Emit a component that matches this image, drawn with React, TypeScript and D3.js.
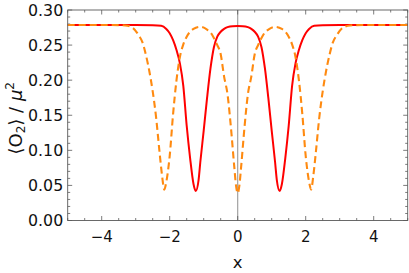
import * as d3 from "d3";

const WIDTH = 409;
const HEIGHT = 273;
const MARGIN = {top: 10, right: 1.3, bottom: 52.5, left: 67.7};

// solid red curve
const redX = [-5, -3, -2.5, -2.25, -2.1, -2, -1.9, -1.8, -1.7, -1.6, -1.5, -1.4, -1.3, -1.235, -1.15, -1.1, -1, -0.9, -0.8, -0.7, -0.6, -0.5, -0.4, -0.3, -0.15, 0,
    0.15, 0.3, 0.4, 0.5, 0.6, 0.7, 0.8, 0.9, 1, 1.1, 1.15, 1.235, 1.3, 1.4, 1.5, 1.6, 1.7, 1.8, 1.9, 2, 2.1, 2.25, 2.5, 3, 5];
const redY = [0.2786, 0.2786, 0.2783, 0.2775, 0.273, 0.267, 0.257, 0.243, 0.224, 0.192, 0.135, 0.089, 0.052, 0.042, 0.058, 0.083, 0.128, 0.175, 0.217, 0.247, 0.262, 0.269, 0.273, 0.2755, 0.277, 0.2772,
    0.277, 0.2755, 0.273, 0.269, 0.262, 0.247, 0.217, 0.175, 0.128, 0.083, 0.058, 0.042, 0.052, 0.089, 0.135, 0.192, 0.224, 0.243, 0.257, 0.267, 0.273, 0.2775, 0.2783, 0.2786, 0.2786];

// dashed orange curve
const orangeX = [-5, -3.5, -3.3, -3.1, -2.9, -2.8, -2.7, -2.6, -2.5, -2.4, -2.3, -2.22, -2.16, -2.1, -2, -1.9, -1.8, -1.7, -1.6, -1.5, -1.4, -1.3, -1.1, -0.9, -0.8, -0.7, -0.6, -0.5, -0.4, -0.3, -0.2, -0.1, -0.05, 0,
    0.05, 0.1, 0.2, 0.3, 0.4, 0.5, 0.6, 0.7, 0.8, 0.9, 1.1, 1.3, 1.4, 1.5, 1.6, 1.7, 1.8, 1.9, 2, 2.1, 2.16, 2.22, 2.3, 2.4, 2.5, 2.6, 2.7, 2.8, 2.9, 3.1, 3.3, 3.5, 5];
const orangeY = [0.2786, 0.2785, 0.278, 0.275, 0.263, 0.254, 0.236, 0.213, 0.184, 0.147, 0.098, 0.062, 0.044, 0.055, 0.092, 0.152, 0.2, 0.233, 0.251, 0.262, 0.269, 0.273, 0.276, 0.272, 0.268, 0.26, 0.25, 0.237, 0.205, 0.18, 0.133, 0.076, 0.05, 0.039,
    0.05, 0.076, 0.133, 0.18, 0.205, 0.237, 0.25, 0.26, 0.268, 0.272, 0.276, 0.273, 0.269, 0.262, 0.251, 0.233, 0.2, 0.152, 0.092, 0.055, 0.044, 0.062, 0.098, 0.147, 0.184, 0.213, 0.236, 0.254, 0.263, 0.275, 0.278, 0.2785, 0.2786];

const xTicks = [-4, -2, 0, 2, 4];
const yTicks = [0, 0.05, 0.1, 0.15, 0.2, 0.25, 0.3];

const FRAME = "#5a5a5a";
const FONT = "'DejaVu Sans', sans-serif";

export default function App() {
    const boundsWidth = WIDTH - MARGIN.left - MARGIN.right;
    const boundsHeight = HEIGHT - MARGIN.top - MARGIN.bottom;

    const xScale = d3.scaleLinear().domain([-5, 5]).range([0, boundsWidth]);
    const yScale = d3.scaleLinear().domain([0, 0.3]).range([boundsHeight, 0]);

    const line = d3
        .line<[number, number]>()
        .x((d) => xScale(d[0]))
        .y((d) => yScale(d[1]))
        .curve(d3.curveMonotoneX);

    const redPath = line(redX.map((x, i) => [x, redY[i]])) ?? "";
    const orangePath = line(orangeX.map((x, i) => [x, orangeY[i]])) ?? "";

    const xMinor = d3.range(-5, 5.001, 0.5).filter((v) => !xTicks.some((t) => Math.abs(t - v) < 1e-6));
    const yMinor = d3.range(0, 0.3001, 0.01).filter((v) => !yTicks.some((t) => Math.abs(t - v) < 1e-6));

    const MAJ = 4.5;
    const MIN = 2.5;

    const xTickLines = [...xTicks.map((t) => ({t, len: MAJ})), ...xMinor.map((t) => ({t, len: MIN}))];
    const yTickLines = [...yTicks.map((t) => ({t, len: MAJ})), ...yMinor.map((t) => ({t, len: MIN}))];

    return (
        <svg width={WIDTH} height={HEIGHT} style={{position: "absolute", left: 0, top: 0}}>
            <rect width={WIDTH} height={HEIGHT} fill="white"/>
            <g transform={`translate(${MARGIN.left},${MARGIN.top})`}>
                {/* axis at x = 0 */}
                <line x1={xScale(0)} x2={xScale(0)} y1={0} y2={boundsHeight} stroke="#999" strokeWidth={1.1}/>

                {/* ticks on all four sides, pointing inward */}
                {xTickLines.map(({t, len}, i) => (
                    <g key={"xt" + i} stroke={FRAME} strokeWidth={0.8}>
                        <line x1={xScale(t)} x2={xScale(t)} y1={boundsHeight} y2={boundsHeight - len}/>
                        <line x1={xScale(t)} x2={xScale(t)} y1={0} y2={len}/>
                    </g>
                ))}
                {yTickLines.map(({t, len}, i) => (
                    <g key={"yt" + i} stroke={FRAME} strokeWidth={0.8}>
                        <line x1={0} x2={len} y1={yScale(t)} y2={yScale(t)}/>
                        <line x1={boundsWidth} x2={boundsWidth - len} y1={yScale(t)} y2={yScale(t)}/>
                    </g>
                ))}

                <path d={redPath} fill="none" stroke="#ff0000" strokeWidth={2}/>
                <path d={orangePath} fill="none" stroke="#ff8a10" strokeWidth={2.1} strokeDasharray="7,4"/>

                <rect x={0} y={0} width={boundsWidth} height={boundsHeight} fill="none" stroke={FRAME} strokeWidth={0.9}/>

                {xTicks.map((t) => (
                    <text key={"xl" + t} x={xScale(t)} y={boundsHeight + 21.5} textAnchor="middle"
                          fontFamily={FONT} fontSize={15} fill="#111">
                        {t < 0 ? "\u2212" + Math.abs(t) : t}
                    </text>
                ))}
                {yTicks.map((t) => (
                    <text key={"yl" + t} x={-4.5} y={yScale(t)} textAnchor="end" dominantBaseline="central"
                          fontFamily={FONT} fontSize={15.8} fill="#111">
                        {t.toFixed(2)}
                    </text>
                ))}

                <text x={xScale(0)} y={boundsHeight + 47.5} textAnchor="middle" fontFamily={FONT} fontSize={16.5} fill="#111">
                    x
                </text>
            </g>

            <text transform={`translate(21.5,${MARGIN.top + boundsHeight / 2 + 3}) rotate(-90)`} textAnchor="middle"
                  fontFamily={FONT} fontSize={18} fill="#111">
                <tspan>{"\u27E8O"}</tspan>
                <tspan fontSize={12} dy={3}>2</tspan>
                <tspan dy={-3}>{"\u27E9 / "}</tspan>
                <tspan fontStyle="italic">{"\u03BC"}</tspan>
                <tspan fontSize={12} dy={-8}>2</tspan>
            </text>
        </svg>
    );
}
